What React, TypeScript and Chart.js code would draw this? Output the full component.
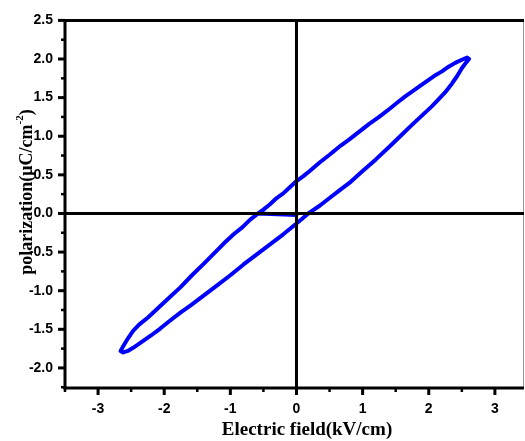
import React, { useEffect, useRef } from "react";
import { Chart, registerables } from "chart.js";

Chart.register(...registerables);

// Measured trace of the P-E loop (in acquisition order)
const fieldKVcm = [
  0.0, -0.58, -0.7, -0.82, -0.95, -1.1, -1.25, -1.4, -1.58, -1.76, -1.95, -2.1, -2.25, -2.38, -2.47, -2.55, -2.62, -2.66,
  -2.62, -2.55, -2.47, -2.35, -2.2, -2.06, -1.9, -1.75, -1.6, -1.4, -1.2, -1.0, -0.8, -0.6, -0.4, -0.2, 0.0, 0.18,
  0.35, 0.5, 0.65, 0.82, 1.0, 1.2, 1.4, 1.58, 1.75, 1.9, 2.05, 2.14, 2.25, 2.35, 2.43, 2.5, 2.56, 2.61,
  2.58, 2.5, 2.4, 2.3, 2.2, 2.08, 1.95, 1.8, 1.65, 1.53, 1.4, 1.25, 1.1, 0.95, 0.8, 0.67, 0.5, 0.35, 0.2, 0.1,
  0.0, -0.1, -0.2, -0.3, -0.4, -0.5, -0.58,
];
const polarization = [
  -0.02, 0.0, -0.08, -0.18, -0.27, -0.39, -0.52, -0.65, -0.8, -0.96, -1.11, -1.23, -1.35, -1.44, -1.52, -1.62, -1.72, -1.78,
  -1.8, -1.78, -1.74, -1.67, -1.58, -1.49, -1.38, -1.28, -1.19, -1.06, -0.93, -0.8, -0.66, -0.53, -0.4, -0.27, -0.13, 0.0,
  0.1, 0.2, 0.3, 0.41, 0.55, 0.7, 0.86, 1.01, 1.15, 1.27, 1.39, 1.47, 1.57, 1.68, 1.78, 1.88, 1.95, 2.0,
  2.02, 1.99, 1.95, 1.9, 1.84, 1.78, 1.7, 1.61, 1.52, 1.44, 1.35, 1.25, 1.16, 1.06, 0.96, 0.88, 0.76, 0.66, 0.55, 0.48,
  0.42, 0.34, 0.26, 0.2, 0.12, 0.05, 0.0,
];

const xTicks = [-3, -2, -1, 0, 1, 2, 3];
const xMinorTicks = [-3.5, -2.5, -1.5, -0.5, 0.5, 1.5, 2.5];
const yTicks = [-2.0, -1.5, -1.0, -0.5, 0.0, 0.5, 1.0, 1.5, 2.0, 2.5];
const yMinorTicks = [-2.25, -1.75, -1.25, -0.75, -0.25, 0.25, 0.75, 1.25, 1.75, 2.25];

const xTitle = "Electric field(kV/cm)";
const yTitleMain = "polarization(\u03bcC/cm";
const yTitleSup = "-2";
const yTitleEnd = ")";

const framePlugin = {
  id: "frame",
  afterDatasetsDraw(chart: any) {
    const { ctx, chartArea: ca, scales } = chart;
    const xs = scales.x;
    const ys = scales.y;
    const line = (x1: number, y1: number, x2: number, y2: number) => {
      ctx.beginPath();
      ctx.moveTo(x1, y1);
      ctx.lineTo(x2, y2);
      ctx.stroke();
    };
    ctx.save();
    ctx.lineCap = "butt";
    // thin right border
    ctx.lineWidth = 1;
    ctx.strokeStyle = "#999";
    line(ca.right - 0.5, ca.top, ca.right - 0.5, ca.bottom);
    ctx.strokeStyle = "#000";
    ctx.lineWidth = 3;
    const x0 = xs.getPixelForValue(0);
    const y0 = ys.getPixelForValue(0);
    line(ca.left, y0, ca.right, y0);
    line(x0, ca.top, x0, ca.bottom);
    line(ca.left - 1.5, ca.top, ca.right, ca.top);
    line(ca.left, ca.top, ca.left, ca.bottom + 1.5);
    line(ca.left - 1.5, ca.bottom, ca.right, ca.bottom);
    // ticks
    ctx.lineWidth = 3;
    yTicks.forEach((v) => {
      const p = ys.getPixelForValue(v);
      line(ca.left - 7, p, ca.left, p);
    });
    xTicks.forEach((v) => {
      const p = xs.getPixelForValue(v);
      line(p, ca.bottom, p, ca.bottom + 7);
    });
    ctx.lineWidth = 2.5;
    yMinorTicks.forEach((v) => {
      const p = ys.getPixelForValue(v);
      line(ca.left - 4, p, ca.left, p);
    });
    xMinorTicks.forEach((v) => {
      const p = xs.getPixelForValue(v);
      line(p, ca.bottom, p, ca.bottom + 4);
    });
    ctx.restore();
  },
  afterDraw(chart: any) {
    const { ctx } = chart;
    ctx.save();
    ctx.fillStyle = "#000";
    // x title
    ctx.font = "bold 19px 'Liberation Serif', 'Times New Roman', serif";
    ctx.textAlign = "center";
    ctx.textBaseline = "middle";
    ctx.fillText(xTitle, 307, 430);
    // y title (rotated)
    ctx.translate(26, 192);
    ctx.rotate(-Math.PI / 2);
    const mainFont = "bold 18px 'Liberation Serif', 'Times New Roman', serif";
    const supFont = "bold 11px 'Liberation Serif', 'Times New Roman', serif";
    ctx.font = mainFont;
    const w1 = ctx.measureText(yTitleMain).width;
    const w3 = ctx.measureText(yTitleEnd).width;
    ctx.font = supFont;
    const w2 = ctx.measureText(yTitleSup).width;
    const total = w1 + w2 + w3;
    let cx = -total / 2;
    ctx.textAlign = "left";
    ctx.textBaseline = "alphabetic";
    ctx.font = mainFont;
    ctx.fillText(yTitleMain, cx, 6);
    cx += w1;
    ctx.font = supFont;
    ctx.fillText(yTitleSup, cx, -3);
    cx += w2;
    ctx.font = mainFont;
    ctx.fillText(yTitleEnd, cx, 6);
    ctx.restore();
  },
};

export default function App() {
  const canvasRef = useRef<HTMLCanvasElement | null>(null);

  useEffect(() => {
    const canvas = canvasRef.current;
    if (!canvas) return;
    const points = fieldKVcm.map((x, i) => ({ x, y: polarization[i] }));
    const tickFont = { family: "'Liberation Sans', Arial, sans-serif", weight: "bold" as const, size: 14 };
    const chart = new Chart(canvas, {
      type: "scatter",
      data: {
        datasets: [
          {
            data: points,
            showLine: true,
            borderColor: "#0000ff",
            backgroundColor: "#0000ff",
            borderWidth: 4,
            borderJoinStyle: "round",
            borderCapStyle: "round",
            pointRadius: 0,
            tension: 0,
          },
        ],
      },
      options: {
        responsive: false,
        animation: false,
        events: [],
        layout: { padding: { top: 17, right: 1, left: 0, bottom: 0 } },
        plugins: { legend: { display: false }, tooltip: { enabled: false } },
        scales: {
          x: {
            type: "linear",
            min: -3.5,
            max: 3.44,
            grid: { display: false, drawTicks: false },
            border: { display: false },
            ticks: {
              font: tickFont,
              color: "#000",
              padding: 13,
              maxRotation: 0,
              callback: (v: any) => String(v),
            },
            afterBuildTicks: (scale: any) => {
              scale.ticks = xTicks.map((value) => ({ value }));
            },
            afterFit: (scale: any) => {
              scale.height = 53;
            },
          },
          y: {
            type: "linear",
            min: -2.26,
            max: 2.5,
            grid: { display: false, drawTicks: false },
            border: { display: false },
            ticks: {
              font: tickFont,
              color: "#000",
              padding: 12,
              callback: (v: any) => Number(v).toFixed(1),
            },
            afterBuildTicks: (scale: any) => {
              scale.ticks = yTicks.map((value) => ({ value }));
            },
            afterFit: (scale: any) => {
              scale.width = 65;
            },
          },
        },
      },
      plugins: [framePlugin],
    });
    return () => chart.destroy();
  }, []);

  return (
    <div style={{ position: "fixed", left: 0, top: 0, width: 525, height: 441, background: "#fff" }}>
      <canvas ref={canvasRef} width={525} height={441} style={{ display: "block" }} />
    </div>
  );
}
